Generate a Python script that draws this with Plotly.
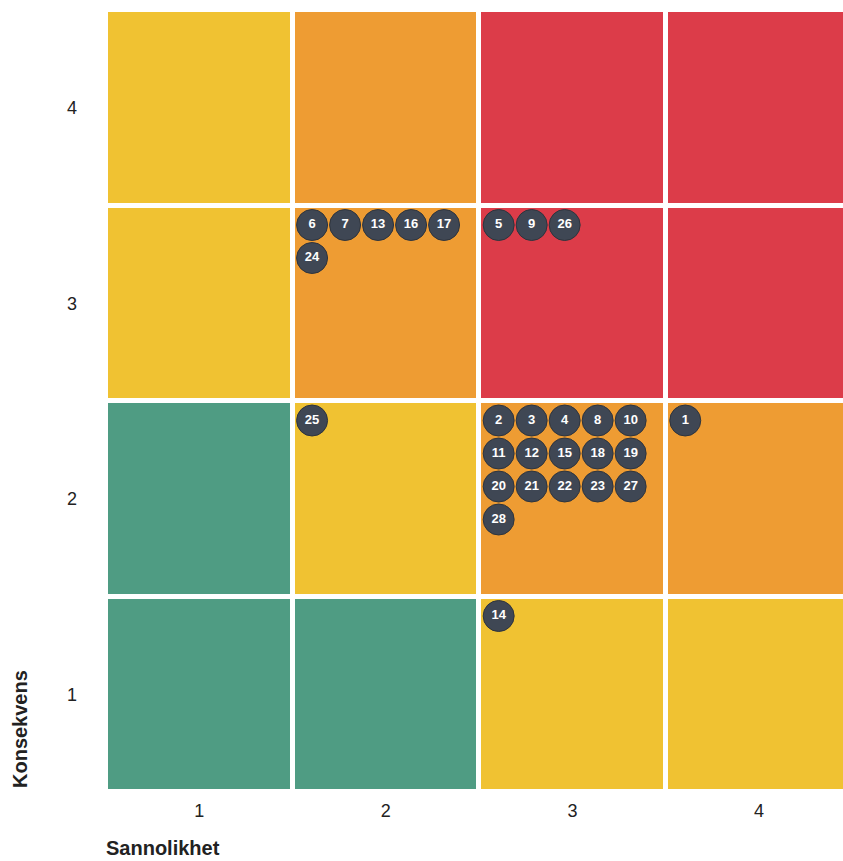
import plotly.graph_objects as go

# Axis categories
sannsynlighet = [1, 2, 3, 4]   # x (Sannolikhet)
konsekvens = [1, 2, 3, 4]      # y (Konsekvens)

# Risk level per cell (rows = konsekvens 1..4, cols = sannsynlighet 1..4)
# 0 = green, 1 = yellow, 2 = orange, 3 = red
risk_level = [
    [0, 0, 1, 1],
    [0, 1, 2, 2],
    [1, 2, 3, 3],
    [1, 2, 3, 3],
]
level_colors = ["#4f9c83", "#f0c232", "#ee9c33", "#dc3c49"]

# Risks: id, sannsynlighet, konsekvens
risk_ids = [1, 2, 3, 4, 5, 6, 7, 8, 9, 10, 11, 12, 13, 14, 15, 16, 17, 18, 19, 20,
            21, 22, 23, 24, 25, 26, 27, 28]
risk_s = [4, 3, 3, 3, 3, 2, 2, 3, 3, 3, 3, 3, 2, 3, 3, 2, 2, 3, 3, 3,
          3, 3, 3, 2, 2, 3, 3, 3]
risk_k = [2, 2, 2, 2, 3, 3, 3, 2, 3, 2, 2, 2, 3, 1, 2, 3, 3, 2, 2, 2,
          2, 2, 2, 3, 2, 3, 2, 2]

W, H = 843, 861
ML, MR, MT, MB = 106, 0, 10, 69
XR = [0.5, 4.45]
YR = [0.5, 4.5]
px_x = (W - ML - MR) / (XR[1] - XR[0])
px_y = (H - MT - MB) / (YR[1] - YR[0])

# Stack markers inside each cell, 5 per row, starting top-left
per_row = 5
step = 33
first = 19.5
counters = {}
mx, my, mt = [], [], []
for rid, s, k in sorted(zip(risk_ids, risk_s, risk_k)):
    n = counters.get((s, k), 0)
    counters[(s, k)] = n + 1
    col, row = n % per_row, n // per_row
    mx.append(s - 0.5 + (first + col * step) / px_x)
    my.append(k + 0.5 - (first + row * step) / px_y)
    mt.append(str(rid))

n = len(level_colors) - 1
colorscale = [[i / n, c] for i, c in enumerate(level_colors)]

fig = go.Figure()
fig.add_trace(go.Heatmap(
    x=sannsynlighet, y=konsekvens, z=risk_level,
    colorscale=colorscale, zmin=0, zmax=n, showscale=False,
    xgap=5, ygap=5, hoverinfo="skip",
))
fig.add_trace(go.Scatter(
    x=mx, y=my, text=mt, mode="markers+text",
    marker=dict(size=31, color="#3f4754", line=dict(color="#2e343d", width=1)),
    textfont=dict(color="white", size=13, family="Arial, Liberation Sans, sans-serif",
                  weight="bold"),
    textposition="middle center", hoverinfo="skip", cliponaxis=False,
))

fig.update_layout(
    width=W, height=H,
    margin=dict(l=ML, r=MR, t=MT, b=MB),
    paper_bgcolor="white", plot_bgcolor="white",
    showlegend=False,
    font=dict(family="Arial, Liberation Sans, sans-serif", color="#222", size=18),
    xaxis=dict(range=XR, tickvals=sannsynlighet, ticktext=[str(v) for v in sannsynlighet],
               showgrid=False, zeroline=False, showline=False, ticks="",
               ticklabelstandoff=6, fixedrange=True),
    yaxis=dict(range=YR, tickvals=konsekvens, ticktext=[str(v) for v in konsekvens],
               showgrid=False, zeroline=False, showline=False, ticks="",
               ticklabelstandoff=28, fixedrange=True),
    annotations=[
        dict(text="<b>Sannolikhet</b>", xref="paper", yref="paper",
             x=(104 - ML) / (W - ML - MR), y=-(848 - (H - MB)) / (H - MT - MB),
             xanchor="left", yanchor="middle", showarrow=False,
             font=dict(size=20, color="#222")),
        dict(text="<b>Konsekvens</b>", xref="paper", yref="paper",
             x=-(ML - 20) / (W - ML - MR), y=((H - MB) - 729) / (H - MT - MB),
             xanchor="center", yanchor="middle", textangle=-90, showarrow=False,
             font=dict(size=20, color="#222")),
    ],
)

fig.write_html("out.html", config={"displayModeBar": False},
               post_script="document.body.style.margin='0';")
